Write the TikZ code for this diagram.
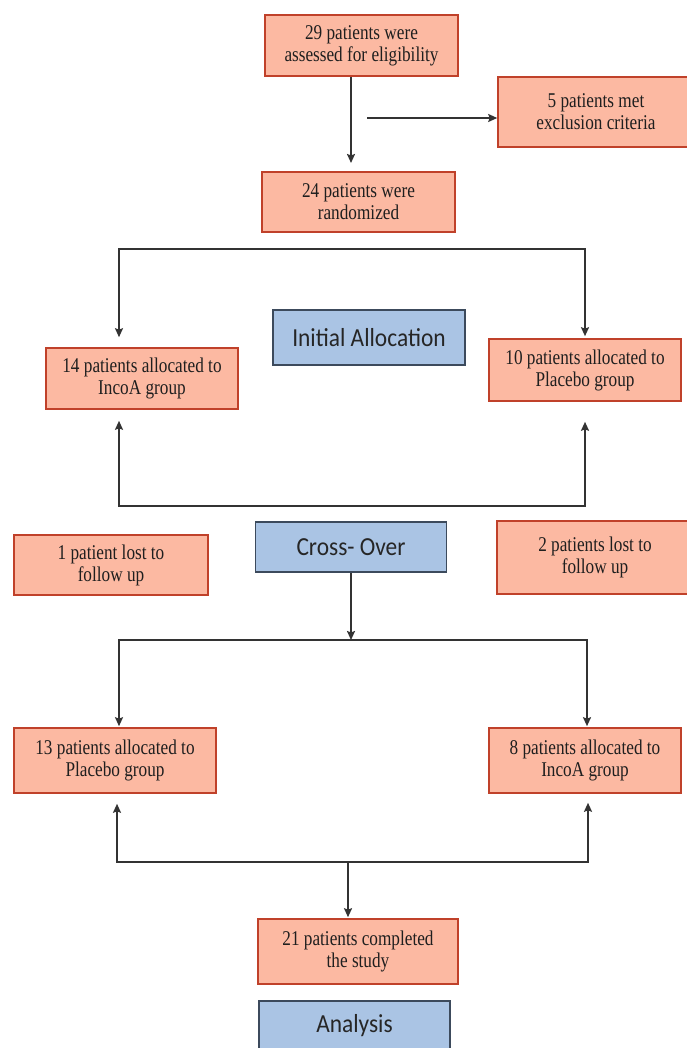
\documentclass[tikz,border=0pt]{standalone}
\usepackage{fontspec}
\newfontfamily\boxfont[FakeStretch=0.82]{Liberation Serif}
\newfontfamily\stagefont[FakeStretch=0.9]{Carlito}
\usetikzlibrary{arrows.meta}

\definecolor{salmon}{HTML}{FCB9A2}
\definecolor{rust}{HTML}{C0412A}
\definecolor{stageblue}{HTML}{AAC4E4}
\definecolor{stageline}{HTML}{3C4A5C}
\definecolor{ink}{HTML}{333333}

\tikzset{
  patbox/.style={draw=rust, fill=salmon, line width=1.6pt, inner sep=0pt,
    align=center, text=black!88, font=\boxfont\fontsize{21}{22}\selectfont},
  stagebox/.style={draw=stageline, fill=stageblue, line width=1.8pt, inner sep=0pt,
    text=black!85, font=\stagefont\fontsize{26}{30}\selectfont},
  flow/.style={draw=ink, line width=2pt}
}

\begin{document}
\begin{tikzpicture}[x=1pt,y=-1pt,>={Stealth[length=9pt,width=8pt,inset=1.5pt]}]
  \useasboundingbox (0,0) rectangle (686,1048);

  % boxes
  \node[patbox, minimum width=193, minimum height=61] (elig)  at (361.5,45.5) {29 patients were\\assessed\ for eligibility};
  \node[patbox, minimum width=196, minimum height=70] (excl)  at (596,112)    {5 patients met\\exclusion criteria};
  \node[patbox, minimum width=193, minimum height=60] (rand)  at (358.5,202)  {24 patients were\\randomized};

  \node[stagebox, minimum width=192, minimum height=55] (init) at (369,337.5) {Initial Allocation};
  \node[patbox, minimum width=192, minimum height=61] (incoA) at (142,378.5)  {14 patients allocated to\\IncoA group};
  \node[patbox, minimum width=192, minimum height=62] (plac)  at (585,370)    {10 patients allocated to\\Placebo group};

  \node[stagebox, minimum width=191, minimum height=50] (cross) at (351,547)  {Cross- Over};
  \node[patbox, minimum width=194, minimum height=60] (lostL) at (111,565)    {1 patient lost to\\follow up};
  \node[patbox, minimum width=196, minimum height=73] (lostR) at (595,557.5)  {2 patients lost to\\follow up};

  \node[patbox, minimum width=202, minimum height=65] (placB) at (115,760.5)  {13 patients allocated to\\Placebo group};
  \node[patbox, minimum width=192, minimum height=65] (incoB) at (585,760.5)  {8 patients allocated to\\IncoA group};

  \node[patbox, minimum width=200, minimum height=65] (done)  at (358,951.5)  {21 patients completed\\the study};
  \node[stagebox, minimum width=191, minimum height=50] (anal) at (354.5,1026) {Analysis};

  % connectors
  \coordinate (tipA) at (351,163);
  \coordinate (exA)  at (367,118);
  \draw[flow,->] (elig.south -| tipA) -- (tipA);
  \draw[flow,->] (exA) -- (exA -| excl.west);

  \coordinate (f1l) at (119,249);
  \coordinate (f1r) at (585,249);
  \draw[flow,<->] ([yshift=10pt]incoA.north -| f1l) -- (f1l) -- (f1r) -- ([yshift=2pt]plac.north -| f1r);

  \coordinate (f2l) at (119,506);
  \coordinate (f2r) at (585,506);
  \draw[flow,<->] ([yshift=-11pt]incoA.south -| f2l) -- (f2l) -- (f2r) -- ([yshift=-20pt]plac.south -| f2r);

  \coordinate (f3l) at (119,640);
  \coordinate (f3r) at (587,640);
  \draw[flow,->] (cross.south) -- (cross.south |- f3l);
  \draw[flow,<->] ([yshift=1pt]placB.north -| f3l) -- (f3l) -- (f3r) -- ([yshift=1pt]incoB.north -| f3r);

  \coordinate (f4l) at (117,862);
  \coordinate (f4r) at (588,862);
  \coordinate (f4m) at (348,862);
  \draw[flow,<->] ([yshift=-10pt]placB.south -| f4l) -- (f4l) -- (f4r) -- ([yshift=-9pt]incoB.south -| f4r);
  \draw[flow,->] (f4m) -- ([yshift=1pt]done.north -| f4m);

\end{tikzpicture}
\end{document}
